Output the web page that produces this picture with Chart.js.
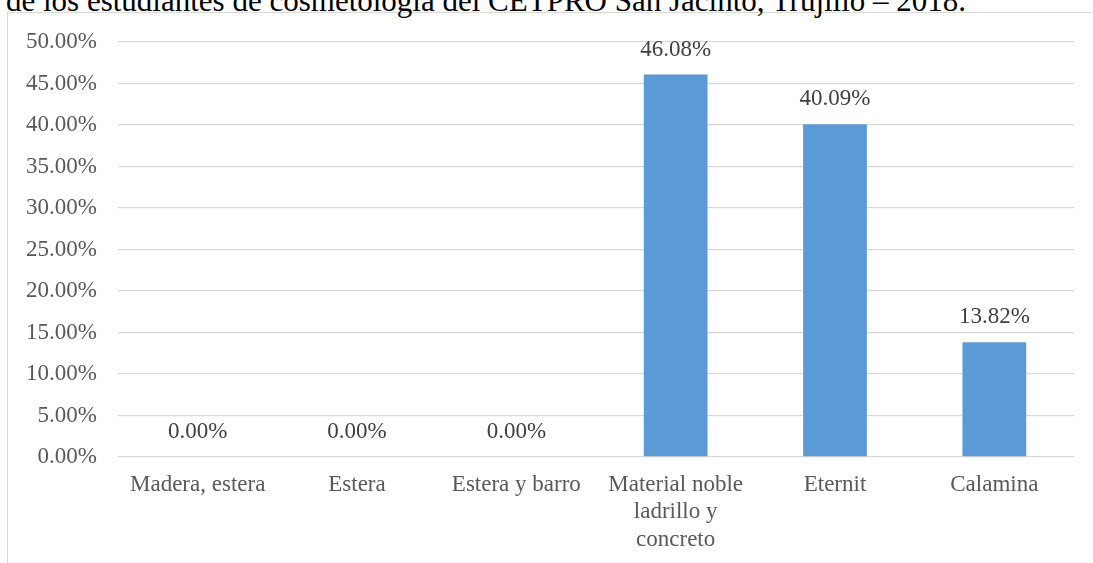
<!DOCTYPE html>
<html>
<head>
<meta charset="utf-8">
<script src="https://cdn.jsdelivr.net/npm/chart.js@4.4.0/dist/chart.umd.min.js"></script>
<style>
    html, body { margin: 0; padding: 0; background: #fff; overflow: hidden; }
    #wrap { position: relative; width: 1093px; height: 563px; }
    #frame {
        position: absolute; left: 7px; top: 12px; right: 0; bottom: 0;
        border-left: 1px solid #d9d9d9; border-top: 1px solid #d9d9d9;
    }
    #title {
        position: absolute; left: 6px; top: -15px;
        font-family: "Liberation Serif", "Times New Roman", serif;
        font-size: 31px; line-height: 31px; color: #000; white-space: nowrap;
    }
    #chart { position: absolute; left: 0; top: 0; }
</style>
</head>
<body>
<div id="wrap">
    <div id="frame"></div>
    <div id="title">de los estudiantes de cosmetología del CETPRO San Jacinto, Trujillo – 2018.</div>
    <canvas id="chart" width="1093" height="563"></canvas>
</div>
<script>
    const categories = ['Madera, estera', 'Estera', 'Estera y barro', ['Material noble', 'ladrillo y', 'concreto'], 'Eternit', 'Calamina'];
    const percentages = [0, 0, 0, 46.08, 40.09, 13.82];
    const yMin = 0;
    const yMax = 50;
    const yStep = 5;

    const serif = '"Liberation Serif", "Times New Roman", serif';

    // Draw the percentage above each bar, as in the original.
    const valueLabels = {
        id: 'valueLabels',
        afterDatasetsDraw(chart) {
            const ctx = chart.ctx;
            const meta = chart.getDatasetMeta(0);
            ctx.save();
            ctx.font = '23px ' + serif;
            ctx.fillStyle = '#404040';
            ctx.textAlign = 'center';
            ctx.textBaseline = 'alphabetic';
            meta.data.forEach((bar, index) => {
                const value = chart.data.datasets[0].data[index];
                ctx.fillText(value.toFixed(2) + '%', bar.x, bar.y - 19);
            });
            ctx.restore();
        }
    };

    new Chart(document.getElementById('chart'), {
        type: 'bar',
        data: {
            labels: categories,
            datasets: [{
                data: percentages,
                backgroundColor: '#5b9bd5',
                barPercentage: 0.4,
                categoryPercentage: 1
            }]
        },
        options: {
            responsive: false,
            animation: false,
            layout: { padding: { top: 42, right: 19, left: 0, bottom: 0 } },
            plugins: {
                legend: { display: false },
                tooltip: { enabled: false }
            },
            scales: {
                x: {
                    afterFit(scale) { scale.height = 106; },
                    grid: { display: false, drawTicks: false },
                    border: { display: false },
                    ticks: {
                        color: '#595959',
                        font: { family: serif, size: 23, lineHeight: 1.2 },
                        padding: 14,
                        maxRotation: 0,
                        autoSkip: false
                    }
                },
                y: {
                    min: yMin,
                    max: yMax,
                    afterFit(scale) { scale.width = 118; },
                    grid: { color: '#d9d9d9', lineWidth: 1.3, drawTicks: false },
                    border: { display: false },
                    ticks: {
                        stepSize: yStep,
                        color: '#595959',
                        font: { family: serif, size: 23 },
                        padding: 21,
                        callback: value => value.toFixed(2) + '%'
                    }
                }
            }
        },
        plugins: [valueLabels]
    });
</script>
</body>
</html>
